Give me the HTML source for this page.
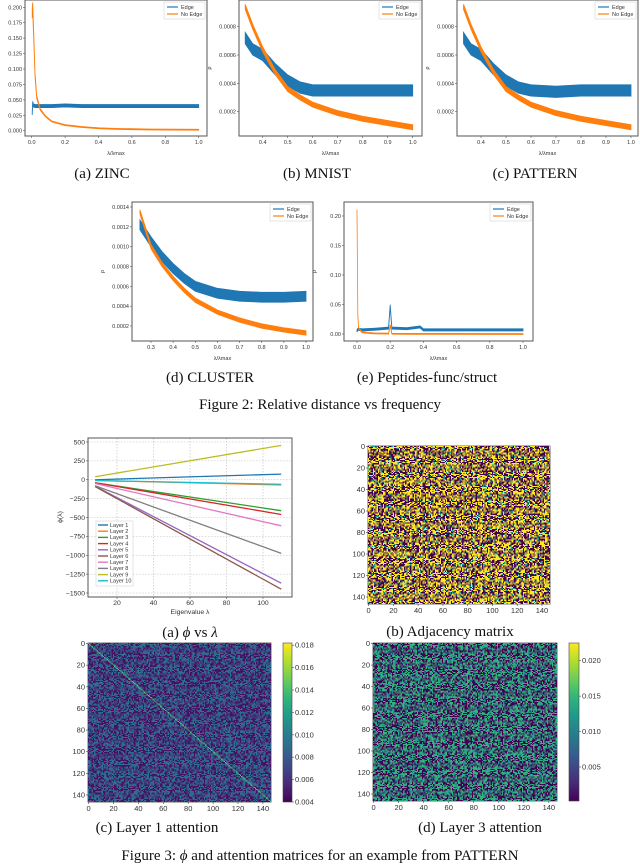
<!DOCTYPE html>
<html><head><meta charset="utf-8">
<style>
html,body{margin:0;padding:0;background:#fff;}
#root{position:relative;width:640px;height:864px;overflow:hidden;font-family:"Liberation Sans",sans-serif;}
svg{position:absolute;left:0;top:0;}
canvas{position:absolute;image-rendering:pixelated;}
.cap{font-family:"Liberation Serif",serif;font-size:15px;fill:#111;}
.tk{font-size:5.5px;fill:#333;}
.tk2{font-size:7.5px;fill:#333;}
.tk3{font-size:6.8px;fill:#333;}
</style></head>
<body>
<div id="root">
<svg id="s" width="640" height="864" viewBox="0 0 640 864">
<text class="cap" x="102" y="178" text-anchor="middle">(a) ZINC</text>
<text class="cap" x="317" y="178" text-anchor="middle">(b) MNIST</text>
<text class="cap" x="535" y="178" text-anchor="middle">(c) PATTERN</text>
<text class="cap" x="210" y="382" text-anchor="middle">(d) CLUSTER</text>
<text class="cap" x="427" y="382" text-anchor="middle">(e) Peptides-func/struct</text>
<text class="cap" x="320" y="409" text-anchor="middle">Figure 2: Relative distance vs frequency</text>
<text class="cap" x="190" y="637" text-anchor="middle">(a) <tspan font-style="italic">ϕ</tspan> vs <tspan font-style="italic">λ</tspan></text>
<text class="cap" x="450" y="636" text-anchor="middle">(b) Adjacency matrix</text>
<text class="cap" x="157" y="832" text-anchor="middle">(c) Layer 1 attention</text>
<text class="cap" x="480" y="832" text-anchor="middle">(d) Layer 3 attention</text>
<text class="cap" x="320" y="860" text-anchor="middle">Figure 3: <tspan font-style="italic">ϕ</tspan> and attention matrices for an example from PATTERN</text>
</svg>
</div>
<script>
// ---------- Figure 2 data ----------
const zincX = [0.003,0.006,0.01,0.02,0.03,0.05,0.08,0.12,0.2,0.3,0.4,0.5,0.7,1.0];
const zincEdge = [0.028,0.045,0.041,0.040,0.040,0.040,0.040,0.040,0.041,0.040,0.040,0.040,0.040,0.040];
const zincNoEdge = [0.19,0.2,0.17,0.09,0.055,0.035,0.024,0.015,0.009,0.006,0.004,0.003,0.002,0.0015];
const mnistX = [0.33,0.36,0.4,0.45,0.5,0.55,0.6,0.7,0.8,0.9,1.0];
const mnistEdge = [0.00072,0.00064,0.00060,0.00050,0.00042,0.00037,0.00035,0.00035,0.00035,0.00035,0.00035];
const mnistNoEdge = [0.00094,0.00080,0.00064,0.00048,0.00036,0.00030,0.00025,0.00019,0.00015,0.00012,0.00009];
const patternX = [0.33,0.36,0.4,0.45,0.5,0.55,0.6,0.7,0.8,0.9,1.0];
const patternEdge = [0.00072,0.00064,0.00060,0.00050,0.00042,0.00037,0.00035,0.00034,0.00035,0.00035,0.00035];
const patternNoEdge = [0.00094,0.00080,0.00064,0.00048,0.00036,0.00030,0.00025,0.00019,0.00015,0.00012,0.00009];
const clusterX = [0.25,0.3,0.35,0.4,0.45,0.5,0.6,0.7,0.8,0.9,1.0];
const clusterEdge = [0.00122,0.00105,0.00090,0.00078,0.00068,0.00060,0.00053,0.00050,0.00049,0.00049,0.00050];
const clusterNoEdge = [0.00135,0.00100,0.00082,0.00068,0.00056,0.00046,0.00034,0.00026,0.00020,0.00016,0.00013];
const peptX = [0.0,0.005,0.01,0.03,0.1,0.15,0.19,0.2,0.21,0.3,0.38,0.4,1.0];
const peptEdge = [0.005,0.008,0.008,0.007,0.008,0.009,0.010,0.048,0.010,0.009,0.012,0.007,0.007];
const peptNoEdge = [0.21,0.03,0.01,0.003,0.001,0.0008,0.0006,0.015,0.0005,0.0003,0.0002,0.0002,0.0];
const zincYTicks = [0,0.025,0.05,0.075,0.1,0.125,0.15,0.175,0.2];
const zincYLabels = ["0.000","0.025","0.050","0.075","0.100","0.125","0.150","0.175","0.200"];
const unitXTicks = [0,0.2,0.4,0.6,0.8,1.0];
const unitXLabels = ["0.0","0.2","0.4","0.6","0.8","1.0"];
const mnistXTicks = [0.4,0.5,0.6,0.7,0.8,0.9,1.0];
const mnistXLabels = ["0.4","0.5","0.6","0.7","0.8","0.9","1.0"];
const mnistYTicks = [0.0002,0.0004,0.0006,0.0008];
const mnistYLabels = ["0.0002","0.0004","0.0006","0.0008"];
const clusterXTicks = [0.3,0.4,0.5,0.6,0.7,0.8,0.9,1.0];
const clusterXLabels = ["0.3","0.4","0.5","0.6","0.7","0.8","0.9","1.0"];
const clusterYTicks = [0.0002,0.0004,0.0006,0.0008,0.001,0.0012,0.0014];
const clusterYLabels = ["0.0002","0.0004","0.0006","0.0008","0.0010","0.0012","0.0014"];
const peptYTicks = [0,0.05,0.1,0.15,0.2];
const peptYLabels = ["0.00","0.05","0.10","0.15","0.20"];

// ---------- Figure 3a data ----------
const phiLayers = ["Layer 1","Layer 2","Layer 3","Layer 4","Layer 5","Layer 6","Layer 7","Layer 8","Layer 9","Layer 10"];
const phiLambda = [8,110];
const phiStart = [0,-10,-40,-40,-85,-90,-50,-80,40,-10];
const phiEnd = [75,-70,-410,-460,-1370,-1450,-610,-975,455,-60];
const phiXTicks = [20,40,60,80,100];
const phiYTicks = [500,250,0,-250,-500,-750,-1000,-1250,-1500];
const phiYLabels = ["500","250","0","\u2212250","\u2212500","\u2212750","\u22121000","\u22121250","\u22121500"];
const cb1Ticks = [0.004,0.006,0.008,0.010,0.012,0.014,0.016,0.018];
const cb1Labels = ["0.004","0.006","0.008","0.010","0.012","0.014","0.016","0.018"];
const cb3Ticks = [0.005,0.010,0.015,0.020];
const cb3Labels = ["0.005","0.010","0.015","0.020"];
const matTicks = [0,20,40,60,80,100,120,140];

const NS="http://www.w3.org/2000/svg";
const svg=document.getElementById('s');
const C_BLUE="#1f77b4",C_ORANGE="#ff7f0e";
const TAB=["#1f77b4","#ff7f0e","#2ca02c","#d62728","#9467bd","#8c564b","#e377c2","#7f7f7f","#bcbd22","#17becf"];
function el(tag,attrs,parent){const e=document.createElementNS(NS,tag);for(const k in attrs)e.setAttribute(k,attrs[k]);(parent||svg).appendChild(e);return e;}
function lin(d0,d1,p0,p1){return v=>p0+(v-d0)*(p1-p0)/(d1-d0);}

function panel(name,box,xs,ys,xT,xL,yT,yL,X,E,N,eSpread,nSpread){
  const g=el('g',{});
  
  
  const cp=el('clipPath',{id:name+'-clip'},g);
  el('rect',{x:box.l,y:box.t,width:box.r-box.l,height:box.b-box.t},cp);
  const pg=el('g',{'clip-path':'url(#'+name+'-clip)'},g);
  function band(vals,spread,color,nm){
    let up=[],lo=[];
    X.forEach((x,i)=>{const s=spread(vals[i]);up.push(xs(x).toFixed(2)+','+ys(vals[i]+s).toFixed(2));lo.unshift(xs(x).toFixed(2)+','+ys(vals[i]-s).toFixed(2));});
    const p=el('polygon',{points:up.concat(lo).join(' '),fill:color,stroke:color,'stroke-width':0.8},pg);
    
    
  }
  band(E,eSpread,C_BLUE,name+'-edge');
  band(N,nSpread,C_ORANGE,name+'-no-edge');
  el('rect',{x:box.l,y:box.t,width:box.r-box.l,height:box.b-box.t,fill:'none',stroke:'#555','stroke-width':1},g);
  xT.forEach((v,i)=>{const x=xs(v);el('line',{x1:x,x2:x,y1:box.b,y2:box.b+2,stroke:'#555','stroke-width':0.6},g);
    const t=el('text',{x:x,y:box.b+8,'text-anchor':'middle',class:'tk'},g);t.textContent=xL[i];});
  yT.forEach((v,i)=>{const y=ys(v);el('line',{x1:box.l-2,x2:box.l,y1:y,y2:y,stroke:'#555','stroke-width':0.6},g);
    const t=el('text',{x:box.l-3,y:y+2,'text-anchor':'end',class:'tk'},g);t.textContent=yL[i];});
  const yl=el('text',{x:box.l-28,y:(box.t+box.b)/2,class:'tk','text-anchor':'middle',transform:'rotate(-90 '+(box.l-28)+' '+((box.t+box.b)/2)+')'},g);yl.textContent='\u03c1';
  const xl=el('text',{x:(box.l+box.r)/2,y:box.b+19,class:'tk','text-anchor':'middle','font-size':'4px'},g);xl.textContent='\u03bb/\u03bbmax';
  const lg=el('g',{},g);
  
  
  const lx=box.r-43,ly=box.t+2;
  el('rect',{x:lx,y:ly,width:41,height:17,fill:'#fff',stroke:'#ccc','stroke-width':0.5},lg);
  el('line',{x1:lx+3,x2:lx+14,y1:ly+5,y2:ly+5,stroke:C_BLUE,'stroke-width':1.2},lg);
  el('line',{x1:lx+3,x2:lx+14,y1:ly+12,y2:ly+12,stroke:C_ORANGE,'stroke-width':1.2},lg);
  let t=el('text',{x:lx+17,y:ly+7,class:'tk'},lg);t.textContent='Edge';
  t=el('text',{x:lx+17,y:ly+14,class:'tk'},lg);t.textContent='No Edge';
}

let b={l:25,r:207,t:0,b:136};
panel('zinc',b,lin(0,1,31.7,198.7),lin(0,0.2,130.7,7.3),unitXTicks,unitXLabels,zincYTicks,zincYLabels,zincX,zincEdge,zincNoEdge,v=>0.0025,v=>Math.max(0.0008,v*0.04));
b={l:239,r:422,t:0,b:136};
panel('mnist',b,lin(0.4,1,262.7,412.7),lin(0.0002,0.0008,111.7,26.7),mnistXTicks,mnistXLabels,mnistYTicks,mnistYLabels,mnistX,mnistEdge,mnistNoEdge,v=>0.00004,v=>0.000018);
b={l:457,r:638,t:0,b:136};
panel('pattern',b,lin(0.4,1,481,631),lin(0.0002,0.0008,111.7,26.7),mnistXTicks,mnistXLabels,mnistYTicks,mnistYLabels,patternX,patternEdge,patternNoEdge,v=>0.00004,v=>0.000018);
b={l:132,r:313,t:202,b:341};
panel('cluster',b,lin(0.3,1,151,306),lin(0.0002,0.0014,326,207),clusterXTicks,clusterXLabels,clusterYTicks,clusterYLabels,clusterX,clusterEdge,clusterNoEdge,v=>0.00005,v=>0.000022);
b={l:344,r:533,t:202,b:341};
panel('peptides',b,lin(0,1,357,523),lin(0,0.2,334,216),unitXTicks,unitXLabels,peptYTicks,peptYLabels,peptX,peptEdge,peptNoEdge,v=>0.0018,v=>0.0008);

// ---------- phi vs lambda ----------
(function(){
  const box={l:88,r:292,t:438,b:597};
  const xs=lin(20,100,117,263), ys=lin(500,-1500,442,593);
  const g=el('g',{});
  
  
  phiXTicks.forEach(v=>{el('line',{x1:xs(v),x2:xs(v),y1:box.t,y2:box.b,stroke:'#bbb','stroke-width':0.6,'stroke-dasharray':'1.5,1.5'},g);
    el('line',{x1:xs(v),x2:xs(v),y1:box.b,y2:box.b+2,stroke:'#555','stroke-width':0.6},g);
    const t=el('text',{x:xs(v),y:box.b+8,'text-anchor':'middle',class:'tk3'},g);t.textContent=v;});
  phiYTicks.forEach((v,i)=>{el('line',{x1:box.l,x2:box.r,y1:ys(v),y2:ys(v),stroke:'#bbb','stroke-width':0.6,'stroke-dasharray':'1.5,1.5'},g);
    el('line',{x1:box.l-2,x2:box.l,y1:ys(v),y2:ys(v),stroke:'#555','stroke-width':0.6},g);
    const t=el('text',{x:box.l-3,y:ys(v)+2.3,'text-anchor':'end',class:'tk3'},g);t.textContent=phiYLabels[i];});
  phiLayers.forEach((n,i)=>{
    const ln=el('line',{x1:xs(phiLambda[0]),y1:ys(phiStart[i]),x2:xs(phiLambda[1]),y2:ys(phiEnd[i]),stroke:TAB[i],'stroke-width':1.3},g);
    
    
  });
  el('rect',{x:box.l,y:box.t,width:box.r-box.l,height:box.b-box.t,fill:'none',stroke:'#555','stroke-width':1},g);
  let t=el('text',{x:190,y:614,'text-anchor':'middle',class:'tk3'},g);t.textContent='Eigenvalue \u03bb';
  t=el('text',{x:62,y:517,'text-anchor':'middle',class:'tk3',transform:'rotate(-90 62 517)'},g);t.textContent='\u03d5(\u03bb)';
  const lg=el('g',{},g);
  
  
  el('rect',{x:96,y:521,width:37,height:65,fill:'#fff','fill-opacity':0.85,stroke:'#ccc','stroke-width':0.5},lg);
  phiLayers.forEach((n,i)=>{const y=525+i*6.2;
    el('line',{x1:98,x2:108,y1:y,y2:y,stroke:TAB[i],'stroke-width':1.4},lg);
    const tt=el('text',{x:110,y:y+1.8,class:'tk','font-size':'4.8px'},lg);tt.textContent=n;});
})();

// ---------- heatmaps ----------
const VIR=[[68,1,84],[72,40,120],[62,74,137],[49,104,142],[38,130,142],[31,158,137],[53,183,121],[110,206,88],[181,222,43],[253,231,37]];
function vir(t){t=Math.max(0,Math.min(1,t));const f=t*9,i=Math.min(8,Math.floor(f)),r=f-i,a=VIR[i],c=VIR[i+1];return 'rgb('+[0,1,2].map(k=>Math.round(a[k]+(c[k]-a[k])*r)).join(',')+')';}
// deterministic texture (visual noise of the matrices, not chart data)
function tex(i,j,s){const v=Math.sin(i*12.9898+j*78.233+s*37.719)*43758.5453;return v-Math.floor(v);}
function heat(name,x,y,w,h,fn){
  const c=document.createElement('canvas');c.width=147;c.height=147;
  c.style.left=x+'px';c.style.top=y+'px';c.style.width=w+'px';c.style.height=h+'px';
  
  
  const ctx=c.getContext('2d');
  for(let i=0;i<147;i++)for(let j=0;j<147;j++){ctx.fillStyle=vir(fn(i,j));ctx.fillRect(j,i,1,1);}
  document.getElementById('root').appendChild(c);
  const g=el('g',{});
  
  
  el('rect',{x:x,y:y,width:w,height:h,fill:'none',stroke:'#444','stroke-width':0.8},g);
  matTicks.forEach(v=>{const px=x+(v+0.5)*w/147,py=y+(v+0.5)*h/147;
    el('line',{x1:px,x2:px,y1:y+h,y2:y+h+2,stroke:'#444','stroke-width':0.6},g);
    let t=el('text',{x:px,y:y+h+9,'text-anchor':'middle',class:'tk2'},g);t.textContent=v;
    el('line',{x1:x-2,x2:x,y1:py,y2:py,stroke:'#444','stroke-width':0.6},g);
    t=el('text',{x:x-3,y:py+2.5,'text-anchor':'end',class:'tk2'},g);t.textContent=v;});
}
function cbar(name,x,y,w,h,lo,hi,ticks,labels){
  const g=el('g',{});
  
  
  const gid=name+'-grad';
  const lgd=el('linearGradient',{id:gid,x1:0,y1:1,x2:0,y2:0},el('defs',{},g));
  VIR.forEach((c,i)=>el('stop',{offset:(i/9),'stop-color':'rgb('+c.join(',')+')'},lgd));
  el('rect',{x:x,y:y,width:w,height:h,fill:'url(#'+gid+')',stroke:'#444','stroke-width':0.6},g);
  const ys=lin(lo,hi,y+h,y);
  ticks.forEach((v,i)=>{el('line',{x1:x+w,x2:x+w+2,y1:ys(v),y2:ys(v),stroke:'#444','stroke-width':0.6},g);
    const t=el('text',{x:x+w+3,y:ys(v)+2.5,class:'tk2'},g);t.textContent=labels[i];});
}
heat('adjacency-heatmap',368,446,182,158,(i,j)=>{const r=tex(i,j,1);return r<0.44?0:(r<0.56?0.55:1);});
heat('layer1-attention-heatmap',88,643,183,159,(i,j)=>{if(i===j)return 0.72;const r=tex(i,j,2);return r<0.45?0.05:(r<0.8?0.3:0.38);});
heat('layer3-attention-heatmap',373,643,184,158,(i,j)=>{const r=tex(i,j,3);return r<0.42?0:(r<0.68?0.5:0.66);});
cbar('layer1-colorbar',283,643,9,159,0.004,0.0182,cb1Ticks,cb1Labels);
cbar('layer3-colorbar',569,643,10,158,0.0002,0.0225,cb3Ticks,cb3Labels);
</script>
</body></html>
